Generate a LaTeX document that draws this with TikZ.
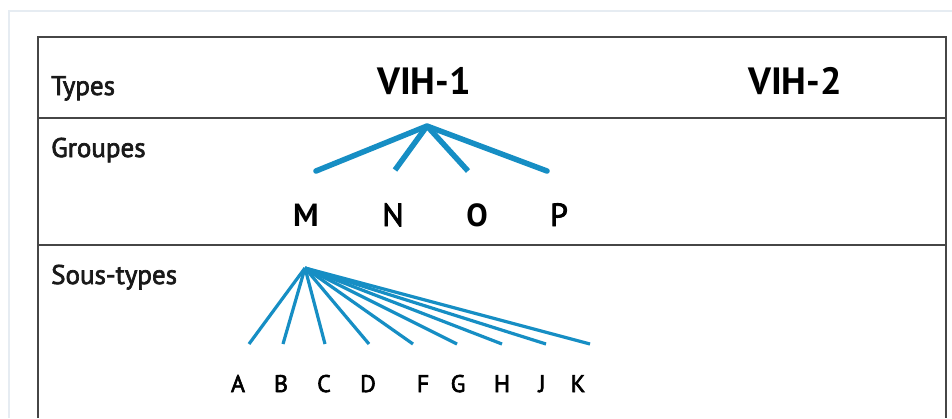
\documentclass[tikz,border=0pt]{standalone}
\usepackage{fontspec}
\setmainfont{PT Sans}
\newfontfamily\medfont{PT Sans}[FakeBold=2.5]
\definecolor{hivblue}{RGB}{22,142,196}
\definecolor{frame}{RGB}{70,70,70}
\definecolor{faint}{RGB}{230,236,242}
\begin{document}
\begin{tikzpicture}[x=1pt,y=-1pt,
  rowlabel/.style={anchor=base west,inner sep=0pt,font=\medfont\fontsize{27}{27}\selectfont,text=black!90},
  typelabel/.style={anchor=base,inner sep=0pt,font=\fontsize{38}{38}\selectfont\bfseries},
  grouplabel/.style={anchor=base,inner sep=0pt,font=\medfont\fontsize{32}{32}\selectfont},
  groupbold/.style={anchor=base,inner sep=0pt,font=\fontsize{32}{32}\selectfont\bfseries},
  sublabel/.style={anchor=base,inner sep=0pt,font=\medfont\fontsize{24}{24}\selectfont},
  groupline/.style={draw=hivblue,line width=5.5pt},
  subline/.style={draw=hivblue,line width=3.2pt},
  border/.style={draw=frame,line width=2pt}]
\useasboundingbox (0,0) rectangle (952,418);
\fill[white] (0,0) rectangle (952,418);
% faint outer frame
\draw[faint,line width=1.5pt] (9,418) -- (9,11) -- (952,11);
% table
\draw[border] (38,418) -- (38,37) -- (946,37) -- (946,418);
\draw[border] (38,118) -- (946,118);
\draw[border] (38,245) -- (946,245);
% row labels
\node[rowlabel] (types) at (51,95) {Types};
\node[rowlabel] (groupes) at (51,157) {Groupes};
\node[rowlabel] (soustypes) at (51,284) {Sous-types};
% types
\node[typelabel] (vih1) at (424,94) {VIH-1};
\node[typelabel] (vih2) at (795,94) {VIH-2};
% groups
\coordinate (gapex) at (427,126);
\coordinate (gm) at (316,171);
\coordinate (gn) at (395,170);
\coordinate (go) at (468,171);
\coordinate (gp) at (547,171);
\draw[groupline,line cap=round,line join=round] (gm) -- (gapex) -- (gp);
\draw[groupline] (gapex) -- (gn);
\draw[groupline] (gapex) -- (go);
\node[groupbold] (M) at (306,226) {M};
\node[grouplabel] (N) at (393,226) {N};
\node[groupbold] (O) at (477,226) {O};
\node[grouplabel] (P) at (559,226) {P};
% subtypes
\coordinate (sapex) at (305,268);
\foreach \n/\x in {a/249,b/283,c/325,d/369,f/413,g/457,h/502,j/546,k/590}
  \coordinate (s\n) at (\x,344);
\foreach \n in {a,b,c,d,f,g,h,j,k}
  \draw[subline] (sapex) -- (s\n);
\node[sublabel] (A) at (238,392) {A};
\node[sublabel] (B) at (281,392) {B};
\node[sublabel] (C) at (324,392) {C};
\node[sublabel] (D) at (368,392) {D};
\node[sublabel] (F) at (423,392) {F};
\node[sublabel] (G) at (458,392) {G};
\node[sublabel] (H) at (502,392) {H};
\node[sublabel] (J) at (542,392) {J};
\node[sublabel] (K) at (578,392) {K};
\end{tikzpicture}
\end{document}
